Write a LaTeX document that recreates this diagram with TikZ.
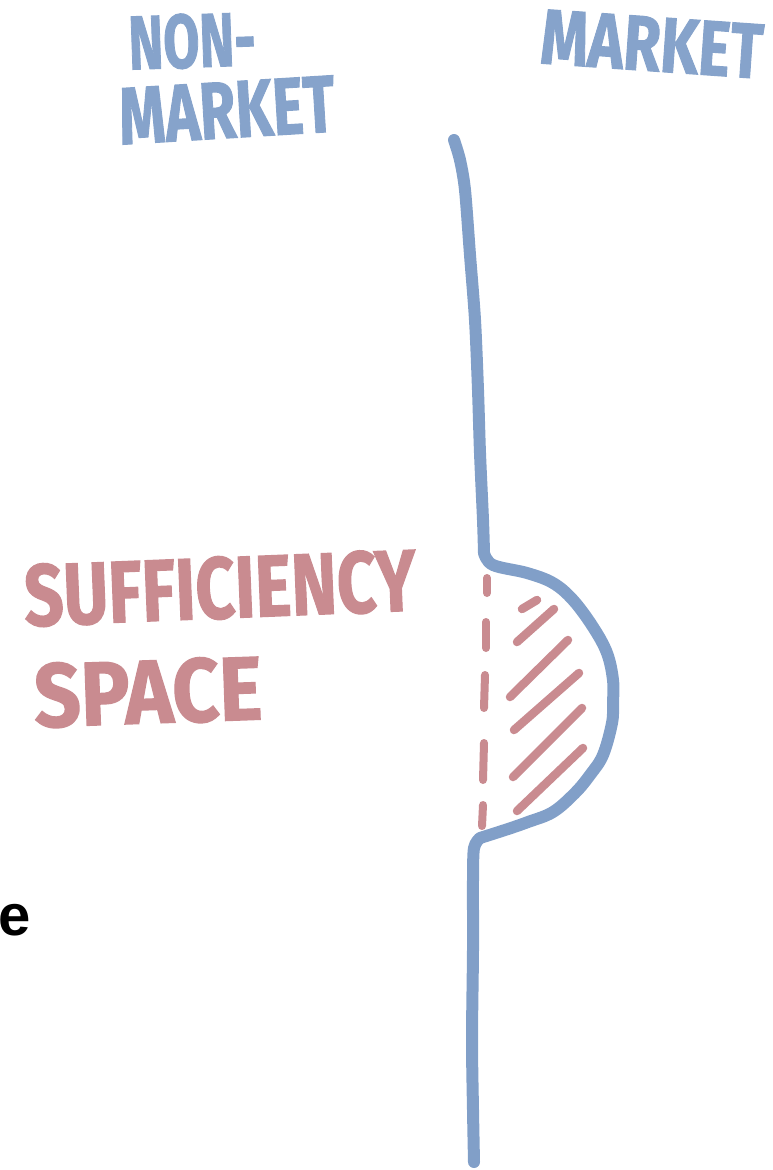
\documentclass[tikz,border=0pt]{standalone}
\usepackage{fontspec}
\usepackage{graphicx}
\usepackage{xcolor}
\newfontfamily\markfont{Fira Sans}[BoldFeatures={FakeBold=1.5}]
\newfontfamily\plainfont{Liberation Sans}
\definecolor{cBlue}{HTML}{819FC8}
\definecolor{cBlueText}{HTML}{86A3CB}
\definecolor{cRed}{HTML}{C98B90}
\usetikzlibrary{positioning}
\tikzset{
  label-blue/.style={inner sep=0pt,text=cBlueText,font=\markfont\bfseries},
  label-red/.style={inner sep=0pt,text=cRed,font=\markfont\bfseries},
  line-market/.style={draw=cBlue,line width=12pt,line cap=round,line join=round},
  line-dash/.style={draw=cRed,line width=8pt,line cap=round},
  line-hatch/.style={draw=cRed,line width=8.5pt,line cap=round},
}

\begin{document}
\begin{tikzpicture}[x=1pt,y=-1pt]
  \useasboundingbox (0,0) rectangle (772,1170);
  % labels on top
  \node[label-blue,rotate=2] (nonm1) at (192,41) {\resizebox{127pt}{54pt}{NON-}};
  \node[label-blue,rotate=3.5] (nonm2) at (227,110) {\resizebox{216pt}{56pt}{MARKET}};
  \node[label-blue,rotate=-4] (mkt) at (652,44) {\resizebox{222pt}{54pt}{MARKET}};
  % sufficiency label
  \node[label-red,rotate=2.3] (suff) at (220,588) {\resizebox{392pt}{62pt}{SUFFICIENCY}};
  \node[label-red,rotate=2] (space) at (148,692) {\resizebox{228pt}{64pt}{SPACE}};
  \node[inner sep=0pt,anchor=base west,font=\plainfont\bfseries\fontsize{58}{60}\selectfont] (e) at (-2,935) {e};
  % the market line with its bump
  \draw[line-market] plot[smooth,tension=0.5] coordinates {(454,140) (460,160) (465,190) (470,255) (475,320) (478,390) (480,453) (483,520) (484,553)}
    -- plot[smooth,tension=0.6] coordinates {(484,553) (493,565) (527,573) (553,583) (573,600) (593,627) (607,653) (613,680) (613,703) (612,723) (603,755) (590,775) (575,793) (553,812) (528,822) (508,829) (480,838)}
    -- plot[smooth,tension=0.5] coordinates {(480,838) (474,848) (473,880) (473,950) (472,1040) (473,1110) (474,1162)};
  % dashed border of the space
  \foreach \ya/\yb/\xa/\xb in {578/593/487/487, 622/648/486/486, 675/708/485/484, 743/780/484/483, 805/826/483/482}
    \draw[line-dash] (\xa,\ya) -- (\xb,\yb);
  % hatching
  \foreach \xa/\ya/\xb/\yb in {522/609/537/600, 517/642/554/609, 510/697/568/640, 514/730/579/673, 513/777/582/708, 517/811/583/748}
    \draw[line-hatch] (\xa,\ya) -- (\xb,\yb);
\end{tikzpicture}
\end{document}
